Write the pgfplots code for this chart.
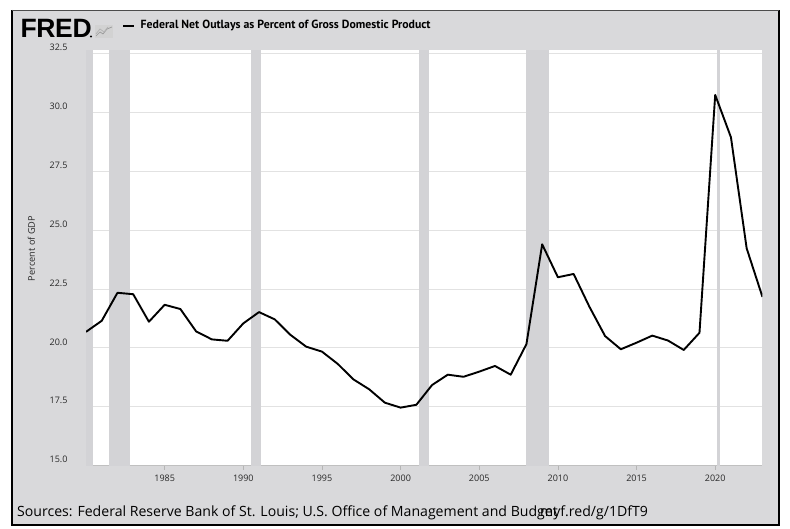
\documentclass[border=0pt]{standalone}
\usepackage{pgfplots}
\pgfplotsset{compat=1.18}
\usepackage{fontspec}
\setmainfont{Open Sans}
\newfontfamily\hdfont{PT Sans}
\newfontfamily\fredfont{Liberation Sans}
\definecolor{framebg}{RGB}{217,217,219}
\definecolor{recess}{RGB}{211,211,214}
\definecolor{gridc}{RGB}{226,226,226}
\definecolor{txt}{RGB}{40,40,40}
\pgfplotstableread{
year value
1980 20.68
1981 21.15
1982 22.34
1983 22.28
1984 21.11
1985 21.83
1986 21.65
1987 20.70
1988 20.36
1989 20.30
1990 21.04
1991 21.52
1992 21.21
1993 20.55
1994 20.05
1995 19.84
1996 19.32
1997 18.66
1998 18.24
1999 17.67
2000 17.46
2001 17.58
2002 18.42
2003 18.86
2004 18.77
2005 18.99
2006 19.23
2007 18.86
2008 20.16
2009 24.40
2010 23.00
2011 23.14
2012 21.75
2013 20.50
2014 19.94
2015 20.22
2016 20.52
2017 20.31
2018 19.91
2019 20.64
2020 30.75
2021 28.95
2022 24.23
2023 22.17
}\outlays
\begin{document}
\begin{tikzpicture}[x=1pt,y=1pt]
\useasboundingbox (0,0) rectangle (790,528);
\fill[white] (0,0) rectangle (790,528);
\fill[framebg] (12,3) rectangle (779,518);
\draw[black,line width=1.6pt] (12,518) -- (12,3) -- (779,3) -- (779,518);
\draw[black!70,line width=0.8pt] (12,518) -- (779,518);
% header
\node[anchor=west,inner sep=0pt,text=black] at (20.5,500) {\fredfont\fontsize{26.5}{26}\selectfont\bfseries F\kern-0.4pt R\kern-0.4pt E\kern-0.4pt D};
\fill[black] (91,491.5) circle (1.1);
\fill[gray!35] (95,490) rectangle (113,503);
\draw[gray!80,line width=0.7pt] (96,492) -- (100,496) -- (103,494) -- (107,499) -- (112,501);
\draw[gray!60,line width=0.7pt] (96,494) -- (100,499) -- (104,496) -- (108,501);
\draw[black,line width=1.4pt] (123,502) -- (133.5,502);
\node[anchor=west,inner sep=0pt,text=black] at (140.5,502) {\hdfont\fontsize{11.8}{13}\selectfont\bfseries Federal Net Outlays as Percent of Gross Domestic Product};
% y label
\node[rotate=90,text=txt,inner sep=0pt] at (31.5,279.5) {\fontsize{9.2}{10}\selectfont Percent of GDP};
% footer
\node[anchor=base west,inner sep=0pt,text=black] at (17,11.5) {\fontsize{14.1}{16}\selectfont Sources: Federal Reserve Bank of St. Louis; U.S. Office of Management and Budget};
\node[anchor=base west,inner sep=0pt,text=black] at (540,11.5) {\fontsize{14.1}{16}\selectfont myf.red/g/1DfT9};
\begin{axis}[
  at={(86pt,62.5pt)}, anchor=south west,
  scale only axis, width=676.4pt, height=415.3pt,
  xmin=1980, xmax=2023, ymin=15, ymax=32.65,
  axis background/.style={fill=white},
  axis lines*=left,
  y axis line style={draw=none},
  x axis line style={draw=gridc!85!black, line width=0.8pt},
  xtick={1985,1990,...,2020},
  ytick={15,17.5,...,32.5},
  tick align=outside,
  major tick length=4pt,
  xtick style={draw=gridc!80!black, line width=0.6pt},
  ytick style={draw=none},
  ymajorgrids,
  grid style={draw=gridc, line width=0.9pt},
  xticklabel style={font=\fontsize{9}{10}\selectfont, text=txt, yshift=-2pt},
  yticklabel style={font=\fontsize{9}{10}\selectfont, text=txt, xshift=-11pt, yshift=6pt},
  x tick label style={/pgf/number format/1000 sep={}},
  /pgf/number format/assume math mode=true,
  yticklabel={\pgfmathprintnumber[fixed,fixed zerofill,precision=1]{\tick}},
  clip=true,
]
\addplot[fill=recess, draw=none] coordinates {(1980,15) (1980,32.65) (1980.47,32.65) (1980.47,15)} -- cycle;
\addplot[fill=recess, draw=none] coordinates {(1981.45,15) (1981.45,32.65) (1982.82,32.65) (1982.82,15)} -- cycle;
\addplot[fill=recess, draw=none] coordinates {(1990.5,15) (1990.5,32.65) (1991.15,32.65) (1991.15,15)} -- cycle;
\addplot[fill=recess, draw=none] coordinates {(2001.17,15) (2001.17,32.65) (2001.83,32.65) (2001.83,15)} -- cycle;
\addplot[fill=recess, draw=none] coordinates {(2007.97,15) (2007.97,32.65) (2009.46,32.65) (2009.46,15)} -- cycle;
\addplot[fill=recess, draw=none] coordinates {(2020.12,15) (2020.12,32.65) (2020.3,32.65) (2020.3,15)} -- cycle;
\addplot[black, line width=1.9pt, line join=round] table[x=year,y=value] {\outlays};
\end{axis}
\end{tikzpicture}
\end{document}
